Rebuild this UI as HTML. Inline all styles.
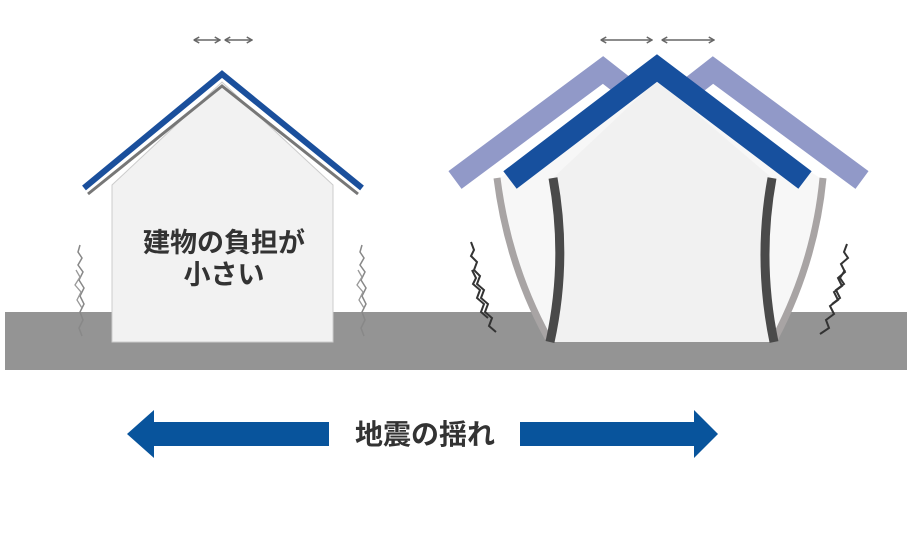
<!DOCTYPE html>
<html><head><meta charset="utf-8">
<style>
html,body{margin:0;padding:0;background:#fff;}
svg{display:block;}
text{font-family:"Liberation Sans","Noto Sans CJK JP",sans-serif;font-weight:bold;fill:#333;}
</style></head>
<body>
<svg width="912" height="552" viewBox="0 0 912 552" xmlns="http://www.w3.org/2000/svg">
<defs>
<marker id="ah" viewBox="0 0 10 10" refX="9" refY="5" markerWidth="5" markerHeight="5" orient="auto-start-reverse">
<path d="M2,1 L9,5 L2,9" fill="none" stroke="#666" stroke-width="2"/>
</marker>
</defs>
<rect x="5" y="312" width="902" height="58" fill="#949494"/>

<polygon points="112,342 112,185 222,82 333,185 333,342" fill="#f2f2f2" stroke="#ccc" stroke-width="1"/>
<polyline points="88,194 222,86 358,194" fill="none" stroke="#777" stroke-width="3"/>
<polyline points="84,188 222,74 362,188" fill="none" stroke="#1a4f9c" stroke-width="6"/>
<text x="224" y="252" font-size="27" text-anchor="middle">建物の負担が</text>
<text x="224" y="284" font-size="27" text-anchor="middle">小さい</text>
<line x1="194" y1="40" x2="220" y2="40" stroke="#666" stroke-width="1.5" marker-start="url(#ah)" marker-end="url(#ah)"/>
<line x1="225" y1="40" x2="252" y2="40" stroke="#666" stroke-width="1.5" marker-start="url(#ah)" marker-end="url(#ah)"/>
<polyline points="80,245 78,252 82,258 78,265 83,272 79,280 84,288 80,296 84,304 80,312 83,320 79,328 82,336" fill="none" stroke="#888" stroke-width="1.5"/>
<polyline points="76,270 80,277 75,285 81,292 77,300 82,308" fill="none" stroke="#999" stroke-width="1.3"/>
<polyline points="362,245 360,252 364,258 360,265 365,272 361,280 366,288 362,296 366,304 362,312 365,320 361,328 364,336" fill="none" stroke="#888" stroke-width="1.5"/>
<polyline points="358,270 362,277 357,285 363,292 359,300 364,308" fill="none" stroke="#999" stroke-width="1.3"/>

<path d="M497,180 Q510,265 548,340 L775,340 Q815,262 823,180 L657,70 Z" fill="#f7f7f7"/>
<path d="M553,178 Q565,260 550,342 L772,342 Q760,260 772,178 L657,80 Z" fill="#f1f1f1"/>
<path d="M497,178 Q508,265 548,338" fill="none" stroke="#a8a4a4" stroke-width="7"/>
<path d="M823,178 Q815,262 775,338" fill="none" stroke="#a8a4a4" stroke-width="7"/>
<path d="M553,178 Q568,260 550,342" fill="none" stroke="#4a4a4a" stroke-width="9"/>
<path d="M772,178 Q757,260 774,342" fill="none" stroke="#4a4a4a" stroke-width="9"/>
<polyline points="455,180 603,70 635,95" fill="none" stroke="#9199c8" stroke-width="22" stroke-linejoin="miter"/>
<polyline points="681,95 713,70 862,180" fill="none" stroke="#9199c8" stroke-width="22" stroke-linejoin="miter"/>
<polyline points="510,180 657,68 805,180" fill="none" stroke="#17509e" stroke-width="22" stroke-linejoin="miter"/>
<line x1="601" y1="40" x2="652" y2="40" stroke="#666" stroke-width="1.5" marker-start="url(#ah)" marker-end="url(#ah)"/>
<line x1="662" y1="40" x2="714" y2="40" stroke="#666" stroke-width="1.5" marker-start="url(#ah)" marker-end="url(#ah)"/>
<polyline points="471,242 474,250 471,256 477,262 474,270 480,276 477,284 484,290 481,298 488,304 485,312 492,318 489,326 496,332" fill="none" stroke="#333" stroke-width="2"/>
<polyline points="472,270 476,278 473,284 480,290 477,298 484,304 481,312 488,318" fill="none" stroke="#333" stroke-width="2"/>
<polyline points="847,244 844,252 848,258 841,264 845,272 838,278 842,286 834,292 838,300 830,306 834,314 826,320 829,328 820,334" fill="none" stroke="#333" stroke-width="2"/>
<polyline points="845,270 840,278 844,284 836,290 840,298 832,304" fill="none" stroke="#333" stroke-width="2"/>

<polygon points="127,434 154,410 154,422 329,422 329,446 154,446 154,458" fill="#08549c"/>
<polygon points="718,434 694,410 694,422 520,422 520,446 694,446 694,458" fill="#08549c"/>
<text x="425" y="444" font-size="28" text-anchor="middle">地震の揺れ</text>
</svg>
</body></html>
